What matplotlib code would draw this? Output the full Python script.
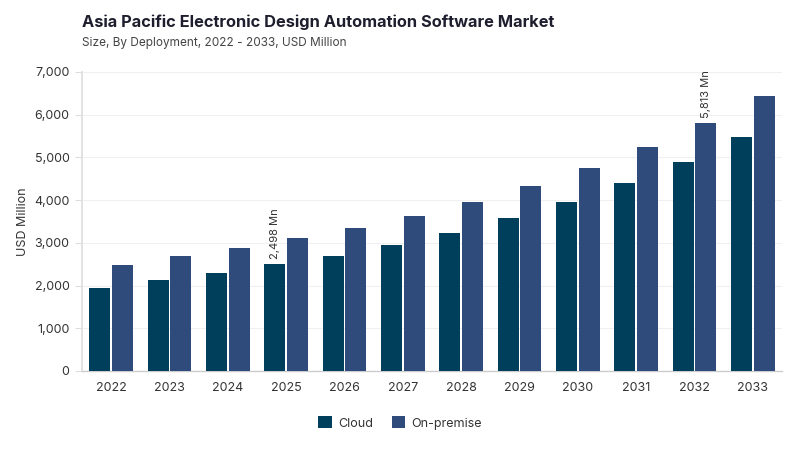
import numpy as np
import matplotlib
matplotlib.use("Agg")
import matplotlib.pyplot as plt
from matplotlib.ticker import FuncFormatter, MultipleLocator

plt.rcParams["font.family"] = ["Inter", "DejaVu Sans"]

years = ["2022", "2023", "2024", "2025", "2026", "2027",
         "2028", "2029", "2030", "2031", "2032", "2033"]
cloud = [1944, 2131, 2295, 2498, 2693, 2951, 3232, 3583, 3958, 4403, 4895, 5480]
onprem = [2482, 2693, 2880, 3115, 3349, 3630, 3958, 4333, 4754, 5246, 5813, 6440]

CLOUD = "#003f5c"
ONPREM = "#2f4b7c"
TXT = "#333333"

fig = plt.figure(figsize=(8, 4.5), dpi=100, facecolor="white")
ax = fig.add_axes([0.1025, 0.1756, 0.875, 0.6644])

x = np.arange(len(years))
w = 0.36
ax.bar(x - w/2 - 0.015, cloud, w, color=CLOUD, label="Cloud", zorder=3)
ax.bar(x + w/2 + 0.015, onprem, w, color=ONPREM, label="On-premise", zorder=3)

# annotations
ax.text(3 - w/2 - 0.015, cloud[3] + 120, f"{cloud[3]:,} Mn", rotation=90,
        ha="center", va="bottom", fontsize=8, color=TXT)
ax.text(10 + w/2 + 0.015, onprem[10] + 120, f"{onprem[10]:,} Mn", rotation=90,
        ha="center", va="bottom", fontsize=8, color=TXT)

ax.set_xlim(-0.5, len(years) - 0.5)
ax.set_ylim(0, 7000)
ax.yaxis.set_major_locator(MultipleLocator(1000))
ax.yaxis.set_major_formatter(FuncFormatter(lambda v, p: f"{int(v):,}"))
ax.set_xticks(x)
ax.set_xticklabels(years)
ax.tick_params(axis="x", length=0, pad=8, labelsize=9, labelcolor=TXT)
ax.tick_params(axis="y", length=5, width=0.8, color="#dddddd", pad=4,
               labelsize=9, labelcolor=TXT)
ax.grid(axis="y", color="#f0f0f0", lw=0.8, zorder=0)
for s in ["top", "right"]:
    ax.spines[s].set_visible(False)
ax.spines["left"].set_color("#dddddd")
ax.spines["left"].set_linewidth(1.2)
ax.spines["bottom"].set_color("#cccccc")
ax.spines["bottom"].set_linewidth(1.0)
ax.set_ylabel("USD Million", fontsize=9, color=TXT, labelpad=4)

fig.text(0.1025, 0.94, "Asia Pacific Electronic Design Automation Software Market",
         fontsize=11.8, fontweight="bold", color="#1e1e2e")
fig.text(0.1025, 0.898, "Size, By Deployment, 2022 - 2033, USD Million",
         fontsize=8.5, color="#444444")

fig.legend(loc="center", bbox_to_anchor=(0.5, 0.06), ncol=2, frameon=False,
           fontsize=9, handlelength=1.1, handleheight=1.1, columnspacing=1.5,
           handletextpad=0.5, labelcolor=TXT)

fig.savefig("out.png", dpi=100)
